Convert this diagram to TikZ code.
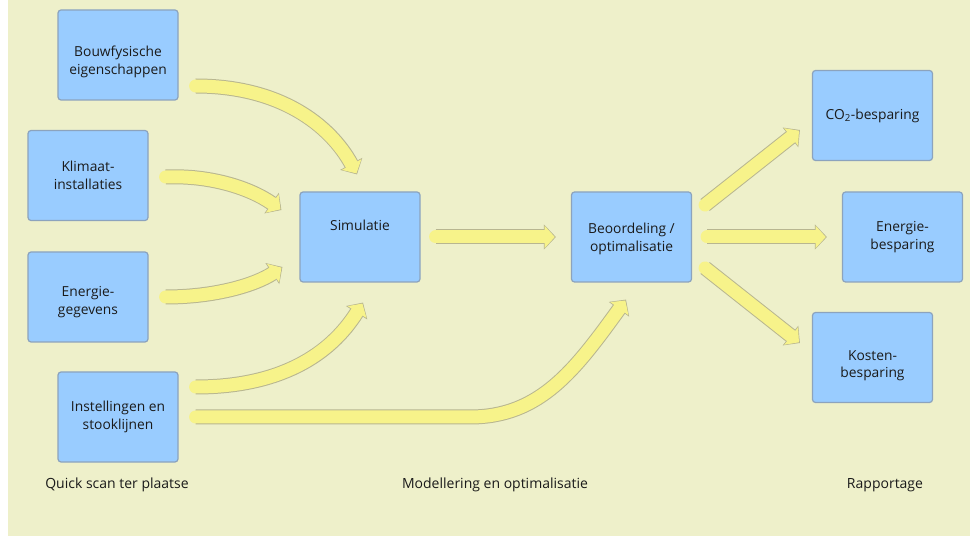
\documentclass[tikz,border=0pt]{standalone}
\usepackage{fontspec}
\setmainfont{Open Sans}
\usetikzlibrary{arrows.meta,calc}
\definecolor{bg}{HTML}{EEF0CA}
\definecolor{boxfill}{HTML}{99CCFF}
\definecolor{boxline}{HTML}{8CA3BD}
\definecolor{arrfill}{HTML}{F7F38A}
\definecolor{arredge}{HTML}{B8B690}
\definecolor{txt}{HTML}{1A1A1A}
\newcommand{\pushdown}[1]{\rule{0pt}{#1}}
\begin{document}
\begin{tikzpicture}[x=1pt,y=-1pt,
  box/.style={draw=boxline, line width=1.2pt, fill=boxfill, rounded corners=3pt,
    minimum width=120pt, minimum height=90pt, align=center, inner sep=0pt,
    font=\fontsize{13.8}{17.5}\selectfont, text=txt},
  caption/.style={font=\fontsize{14}{16}\selectfont, text=txt, inner sep=0pt},
  fat/.style={line cap=round,
    preaction={draw=arredge, line width=15pt, shorten >=0pt,
      -{Triangle[length=12pt,width=25pt,line width=1pt]}},
    draw=arrfill, line width=13pt, shorten >=1.2pt,
    -{Triangle[length=10pt,width=22pt,line width=1pt]}}
]
\useasboundingbox (0,0) rectangle (970,537);
\fill[white] (0,0) rectangle (970,537);
\fill[bg] (8,0) rectangle (970,536);

% boxes
\node[box] (bouw) at (118,55) {\pushdown{24pt}Bouwfysische\\eigenschappen};
\node[box] (klim) at (88,175.5) {Klimaat-\\installaties};
\node[box] (ener) at (88,297) {\pushdown{20pt}Energie-\\gegevens};
\node[box] (inst) at (118,417) {Instellingen en\\stooklijnen};
\node[box] (sim) at (360,237) {\raisebox{0pt}[10pt][22pt]{Simulatie}};
\node[box] (beo) at (631.5,237) {\pushdown{14pt}Beoordeling /\\optimalisatie};
\node[box] (co2) at (872.5,115.5) {CO\textsubscript{2}-besparing};
\node[box] (eb) at (902.5,237) {Energie-\\besparing};
\node[box] (kos) at (872.5,357.5) {\pushdown{26pt}Kosten-\\besparing};

% captions
\node[caption] (c1) at (117,485) {Quick scan ter plaatse};
\node[caption] (c2) at (495,485) {Modellering en optimalisatie};
\node[caption] (c3) at (885,485) {Rapportage};

% arrows
\draw[fat] ([shift={(17,31)}]bouw.east) .. controls (280,86) and (330,125) .. ([shift={(-3,-17)}]sim.north);
\draw[fat] ([shift={(17,1.5)}]klim.east) .. controls (210,175) and (250,188) .. ([shift={(-18,-27)}]sim.west);
\draw[fat] ([shift={(17,0)}]ener.east) .. controls (215,297) and (255,285) .. ([shift={(-17,30)}]sim.west);
\draw[fat] ([shift={(17,-30)}]inst.east) .. controls (280,387) and (330,355) .. ([shift={(3,20)}]sim.south);
\draw[fat] ([shift={(17,0)}]inst.east) -- (470,417) .. controls (540,417) and (575,370) .. ([shift={(-5.5,17)}]beo.south);
\draw[fat] ([shift={(15,0)}]sim.east) -- ([shift={(-15,0)}]beo.west);
\draw[fat] ([shift={(13,-32)}]beo.east) -- ([shift={(-12,14.5)}]co2.west);
\draw[fat] ([shift={(15,0)}]beo.east) -- ([shift={(-15,0)}]eb.west);
\draw[fat] ([shift={(13,31)}]beo.east) -- ([shift={(-12,-14.5)}]kos.west);
\end{tikzpicture}
\end{document}
